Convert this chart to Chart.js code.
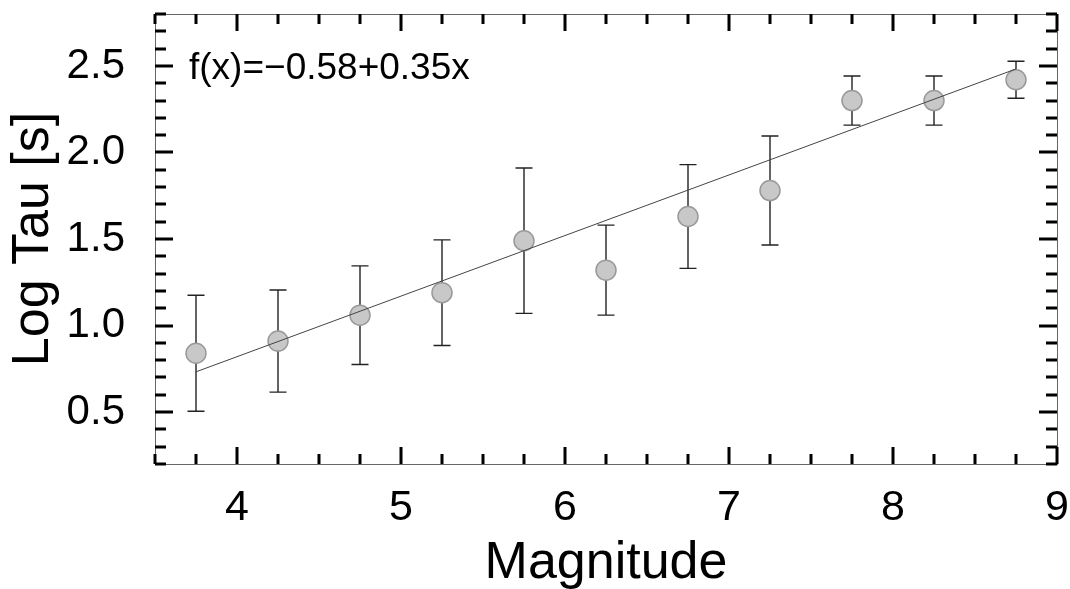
<!DOCTYPE html>
<html>
<head>
    <title>Log Tau vs Magnitude</title>
    <script src="https://cdn.jsdelivr.net/npm/chart.js@4.4.1/dist/chart.umd.min.js"></script>
    <style>
        body {
            margin: 0;
            background: white;
        }
        #wrap {
            width: 1070px;
            height: 589px;
        }
    </style>
</head>
<body>
    <div id="wrap">
        <canvas id="tauChart" width="1070" height="589"></canvas>
    </div>

    <script>
        // data
        const magnitudes = [3.75, 4.25, 4.75, 5.25, 5.75, 6.25, 6.75, 7.25, 7.75, 8.25, 8.75];
        const logTau = [0.84, 0.91, 1.06, 1.19, 1.49, 1.32, 1.63, 1.78, 2.30, 2.30, 2.42];
        const tauErr = [0.335, 0.295, 0.285, 0.305, 0.42, 0.26, 0.30, 0.315, 0.142, 0.142, 0.107];

        // linear fit f(x) = a + b*x
        const fitA = -0.58;
        const fitB = 0.35;
        const fitX = [3.75, 8.75];
        const fitY = [fitA + fitB * fitX[0], fitA + fitB * fitX[1]];

        const xTickLabels = [4, 5, 6, 7, 8, 9];
        const yTickLabels = [0.5, 1.0, 1.5, 2.0, 2.5];

        const FONT = "'Liberation Sans', Arial, sans-serif";

        // error bars drawn under the points
        const errorBars = {
            id: 'errorBars',
            beforeDatasetsDraw(chart) {
                const c = chart.ctx;
                const xs = chart.scales.x, ys = chart.scales.y;
                c.save();
                c.strokeStyle = '#222';
                c.lineWidth = 1.4;
                magnitudes.forEach((m, i) => {
                    const px = xs.getPixelForValue(m);
                    const top = ys.getPixelForValue(logTau[i] + tauErr[i]);
                    const bot = ys.getPixelForValue(logTau[i] - tauErr[i]);
                    c.beginPath();
                    c.moveTo(px, top); c.lineTo(px, bot);
                    c.moveTo(px - 8.5, top); c.lineTo(px + 8.5, top);
                    c.moveTo(px - 8.5, bot); c.lineTo(px + 8.5, bot);
                    c.stroke();
                });
                c.restore();
            }
        };

        // box frame with inward ticks on every side, plus the fit label
        const frame = {
            id: 'frame',
            afterDraw(chart) {
                const c = chart.ctx;
                const a = chart.chartArea;
                const xs = chart.scales.x, ys = chart.scales.y;
                c.save();
                c.strokeStyle = '#666';
                c.lineWidth = 1;
                c.strokeRect(a.left + 0.5, a.top + 0.5, a.right - a.left, a.bottom - a.top);

                c.strokeStyle = '#000';
                c.lineWidth = 3;
                c.beginPath();
                for (let v = 3.5; v <= 9.001; v += 0.25) {
                    const px = Math.round(xs.getPixelForValue(v));
                    const len = Math.abs(v - Math.round(v)) < 0.01 ? 17 : 10;
                    c.moveTo(px, a.bottom); c.lineTo(px, a.bottom - len);
                    c.moveTo(px, a.top); c.lineTo(px, a.top + len);
                }
                for (let k = 2; k <= 28; k++) {
                    const py = Math.round(ys.getPixelForValue(k / 10));
                    const len = k % 5 === 0 ? 18 : 11;
                    c.moveTo(a.left, py); c.lineTo(a.left + len, py);
                    c.moveTo(a.right, py); c.lineTo(a.right - len, py);
                }
                c.stroke();

                c.fillStyle = '#000';
                c.font = '37px ' + FONT;
                c.textBaseline = 'alphabetic';
                c.fillText('f(x)=\u22120.58+0.35x', a.left + 34, a.top + 65);
                c.restore();
            }
        };

        new Chart(document.getElementById('tauChart'), {
            type: 'scatter',
            data: {
                datasets: [
                    {
                        type: 'line',
                        label: 'fit',
                        data: fitX.map((x, i) => ({ x: x, y: fitY[i] })),
                        borderColor: '#444',
                        borderWidth: 1,
                        pointRadius: 0,
                        fill: false,
                        order: 0
                    },
                    {
                        label: 'Log Tau',
                        data: magnitudes.map((m, i) => ({ x: m, y: logTau[i] })),
                        pointRadius: 10,
                        pointBackgroundColor: '#c8c8c8',
                        pointBorderColor: '#9a9a9a',
                        pointBorderWidth: 1.5,
                        order: 1
                    }
                ]
            },
            options: {
                responsive: false,
                animation: false,
                layout: {
                    padding: { top: 14, right: 13, left: 0, bottom: 0 }
                },
                plugins: {
                    legend: { display: false },
                    tooltip: { enabled: false }
                },
                scales: {
                    x: {
                        type: 'linear',
                        min: 3.5,
                        max: 9,
                        afterBuildTicks: s => { s.ticks = xTickLabels.map(v => ({ value: v })); },
                        afterFit: s => {
                            s.height = 125;
                            s.paddingLeft = 0;
                            s.paddingRight = 0;
                        },
                        grid: { display: false, drawTicks: false },
                        border: { display: false },
                        ticks: {
                            color: '#000',
                            padding: 18,
                            maxRotation: 0,
                            font: { family: FONT, size: 43 },
                            callback: v => String(v)
                        },
                        title: {
                            display: true,
                            text: 'Magnitude',
                            color: '#000',
                            padding: { top: 0, bottom: -6 },
                            font: { family: FONT, size: 52 }
                        }
                    },
                    y: {
                        type: 'linear',
                        min: 0.2,
                        max: 2.8,
                        afterBuildTicks: s => { s.ticks = yTickLabels.map(v => ({ value: v })); },
                        afterFit: s => {
                            s.width = 155;
                            s.paddingTop = 0;
                            s.paddingBottom = 0;
                        },
                        grid: { display: false, drawTicks: false },
                        border: { display: false },
                        ticks: {
                            color: '#000',
                            padding: 30,
                            font: { family: FONT, size: 42 },
                            callback: v => v.toFixed(1)
                        },
                        title: {
                            display: true,
                            text: 'Log Tau [s]',
                            color: '#000',
                            padding: { top: 2, bottom: 0 },
                            font: { family: FONT, size: 52 }
                        }
                    }
                }
            },
            plugins: [errorBars, frame]
        });
    </script>
</body>
</html>
